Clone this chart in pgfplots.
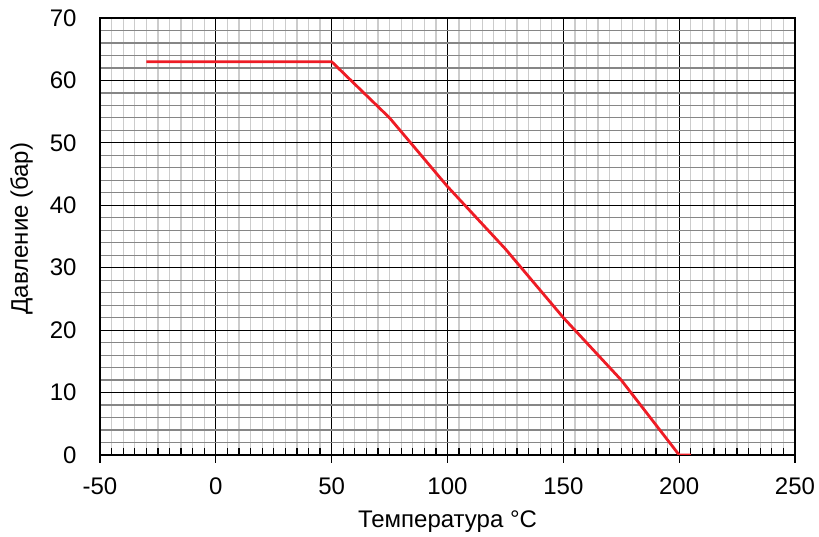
\documentclass[border=0pt]{standalone}
\usepackage{pgfplots}
\pgfplotsset{compat=1.18}
\usepackage{fontspec}
\setmainfont{Liberation Sans}
\definecolor{curve}{HTML}{EE1C25}
\begin{document}
\begin{tikzpicture}
\begin{axis}[
    name=ax,
    at={(0,0)}, anchor=south west,
    width=695pt, height=437pt, scale only axis,
    xmin=-50, xmax=250, ymin=0, ymax=70,
    xtick={-50,0,...,250}, ytick={0,10,...,70},
    minor x tick num=9, minor y tick num=4,
    grid=both,
    major grid style={black, line width=1.2pt},
    minor x grid style={gray!40, line width=1.2pt},
    minor y grid style={gray!95, line width=1.2pt},
    axis line style={black, line width=1.6pt},
    tick pos=left, tick align=outside,
    major tick length=8pt, minor tick length=0pt,
    tick style={black, line width=1.2pt},
    ytick style={draw=none},
    extra x ticks={-45,-40,...,245},
    extra x tick labels={},
    extra x tick style={grid=none, tick align=inside, major tick length=7pt},
    xticklabel={\fontsize{24}{28}\selectfont\pgfmathprintnumber[assume math mode=true]{\tick}},
    yticklabel={\fontsize{24}{28}\selectfont\pgfmathprintnumber[assume math mode=true]{\tick}},
    yticklabel style={xshift=-12pt},
    xticklabel style={yshift=-11pt},
    xlabel={Температура °C},
    ylabel={Давление (бар)},
    label style={font=\fontsize{24}{28}\selectfont},
    xlabel style={yshift=-1pt},
    ylabel style={yshift=10pt, xshift=8pt},
]
\addplot[curve, line width=2.8pt, line join=round] coordinates {
    (-30,63) (50,63) (75,54) (100,43) (125,33) (150,22) (175,12) (200,0) (205,0)
};
\end{axis}
\path (-100pt,-82pt) rectangle (719pt,455pt);
\end{tikzpicture}
\end{document}
